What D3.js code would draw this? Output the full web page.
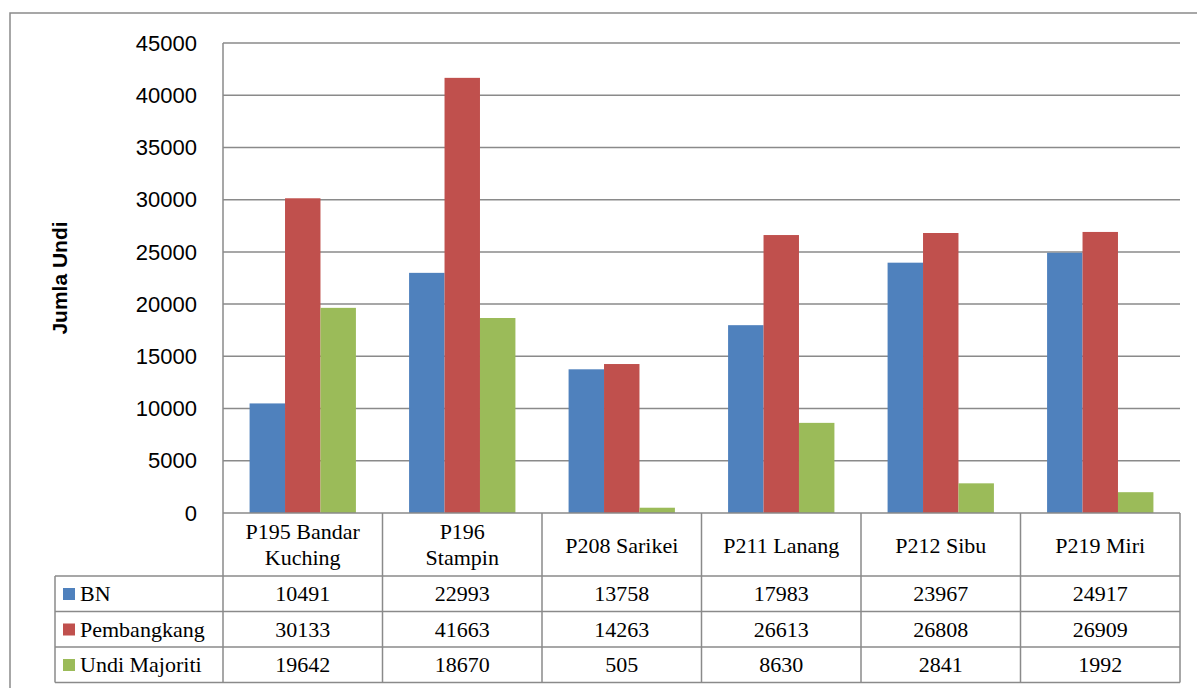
<!DOCTYPE html>
<html>
<head>
<meta charset="utf-8">
<script src="https://cdn.jsdelivr.net/npm/d3@7"></script>
<style>
  body { margin: 0; background: #fff; }
  svg { display: block; }
</style>
</head>
<body>
<script>
// data
var categories = [["P195 Bandar", "Kuching"], ["P196", "Stampin"], ["P208 Sarikei"], ["P211 Lanang"], ["P212 Sibu"], ["P219 Miri"]];
var seriesNames = ["BN", "Pembangkang", "Undi Majoriti"];
var seriesColors = ["#4F81BD", "#C0504D", "#9BBB59"];
var bnValues = [10491, 22993, 13758, 17983, 23967, 24917];
var pembValues = [30133, 41663, 14263, 26613, 26808, 26909];
var majorValues = [19642, 18670, 505, 8630, 2841, 1992];
var yTicks = [0, 5000, 10000, 15000, 20000, 25000, 30000, 35000, 40000, 45000];

var allValues = [bnValues, pembValues, majorValues];

var W = 1197, H = 688;
var plotLeft = 223, plotRight = 1180, plotTop = 43, plotBottom = 513;
var tableLeft = 55, headerBottom = 576, rowH = 35.5;
var lineColor = "#8a8a8a";
var serif = "Liberation Serif";
var sans = "Liberation Sans";

var canvas = d3.select("body").append("svg")
    .attr("width", W)
    .attr("height", H);

// outer frame
canvas.append("rect")
    .attr("x", 10).attr("y", 13)
    .attr("width", W + 20).attr("height", H + 20)
    .attr("fill", "none")
    .attr("stroke", lineColor)
    .attr("stroke-width", 1.5);

var y = d3.scaleLinear().domain([0, 45000]).range([plotBottom, plotTop]);
var catIdx = d3.range(categories.length);
var x0 = d3.scaleBand().domain(catIdx).range([plotLeft, plotRight]).padding(0);
var gw = x0.bandwidth();
var x1 = d3.scaleBand().domain(d3.range(seriesNames.length))
    .range([gw * 0.75 / 4.5, gw - gw * 0.75 / 4.5]).padding(0);

// gridlines
canvas.append("g").selectAll("line")
    .data(yTicks.filter(function(t) { return t > 0; }))
    .join("line")
    .attr("x1", plotLeft).attr("x2", plotRight)
    .attr("y1", function(d) { return y(d); })
    .attr("y2", function(d) { return y(d); })
    .attr("stroke", lineColor)
    .attr("stroke-width", 1.5);

// y tick labels
canvas.append("g").selectAll("text")
    .data(yTicks)
    .join("text")
    .attr("font-family", sans)
    .attr("x", 197)
    .attr("y", function(d) { return y(d); })
    .attr("dy", "0.35em")
    .attr("text-anchor", "end")
    .attr("font-size", 22)
    .attr("fill", "#000")
    .text(function(d) { return d; });

// y axis title
canvas.append("text")
    .attr("font-family", sans)
    .attr("transform", "translate(67,278) rotate(-90)")
    .attr("text-anchor", "middle")
    .attr("font-weight", "bold")
    .attr("font-size", 21)
    .text("Jumla Undi");

// bars
allValues.forEach(function(vals, s) {
    canvas.append("g").selectAll("rect")
        .data(vals)
        .join("rect")
        .attr("x", function(d, i) { return x0(i) + x1(s); })
        .attr("width", x1.bandwidth())
        .attr("y", function(d) { return y(d); })
        .attr("height", function(d) { return y(0) - y(d); })
        .attr("fill", seriesColors[s]);
});

// data table lines
var tableBottom = headerBottom + rowH * 3;
canvas.append("line")
    .attr("x1", plotLeft).attr("x2", plotRight)
    .attr("y1", plotBottom).attr("y2", plotBottom)
    .attr("stroke", lineColor).attr("stroke-width", 1.5);
d3.range(4).forEach(function(r) {
    canvas.append("line")
        .attr("x1", tableLeft).attr("x2", plotRight)
        .attr("y1", headerBottom + r * rowH).attr("y2", headerBottom + r * rowH)
        .attr("stroke", lineColor).attr("stroke-width", 1.5);
});
canvas.append("line")
    .attr("x1", plotLeft).attr("x2", plotLeft)
    .attr("y1", plotTop).attr("y2", tableBottom)
    .attr("stroke", lineColor).attr("stroke-width", 1.5);
canvas.append("line")
    .attr("x1", tableLeft).attr("x2", tableLeft)
    .attr("y1", headerBottom).attr("y2", tableBottom)
    .attr("stroke", lineColor).attr("stroke-width", 1.5);
catIdx.forEach(function(i) {
    var xr = x0(i) + gw;
    canvas.append("line")
        .attr("x1", xr).attr("x2", xr)
        .attr("y1", plotBottom).attr("y2", tableBottom)
        .attr("stroke", lineColor).attr("stroke-width", 1.5);
});

// category headers
catIdx.forEach(function(i) {
    var lines = categories[i];
    var cx = x0(i) + gw / 2;
    var startY = lines.length == 2 ? 539 : 553;
    lines.forEach(function(t, k) {
        canvas.append("text")
            .attr("font-family", serif)
            .attr("x", cx)
            .attr("y", startY + k * 26)
            .attr("text-anchor", "middle")
            .attr("font-size", 22)
            .text(t);
    });
});

// table rows
seriesNames.forEach(function(name, s) {
    var rowTop = headerBottom + s * rowH;
    canvas.append("rect")
        .attr("x", 63).attr("y", rowTop + 12)
        .attr("width", 12).attr("height", 12)
        .attr("fill", seriesColors[s]);
    canvas.append("text")
        .attr("font-family", serif)
        .attr("x", 80)
        .attr("y", rowTop + 25)
        .attr("font-size", 22)
        .text(name);
    canvas.append("g").selectAll("text")
        .data(allValues[s])
        .join("text")
        .attr("font-family", serif)
        .attr("x", function(d, i) { return x0(i) + gw / 2; })
        .attr("y", rowTop + 25)
        .attr("text-anchor", "middle")
        .attr("font-size", 22)
        .text(function(d) { return d; });
});
</script>
</body>
</html>
